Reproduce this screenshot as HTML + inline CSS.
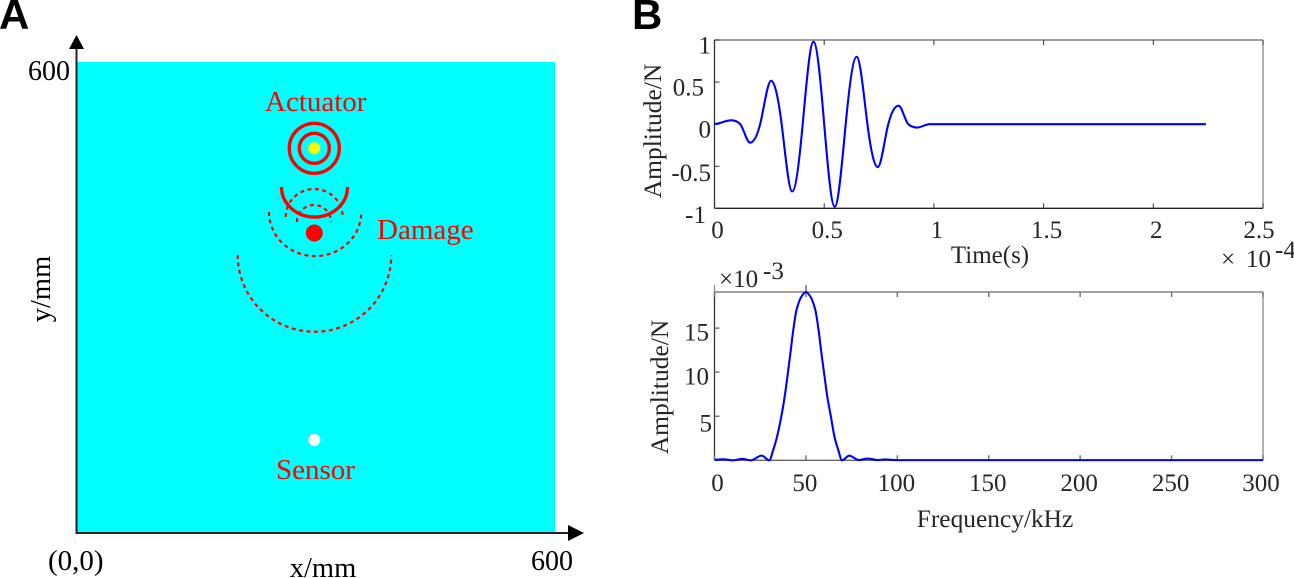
<!DOCTYPE html>
<html>
<head>
<meta charset="utf-8">
<style>
html,body{margin:0;padding:0;background:#fff;width:1294px;height:578px;overflow:hidden}
svg{display:block}
text{font-family:"Liberation Serif",serif;fill:#262626}
.r{fill:#f00}
.k{fill:#000}
.lab{font-family:"Liberation Sans",sans-serif;font-weight:bold;fill:#000;font-size:42px}
</style>
</head>
<body>
<svg id="fig" width="1294" height="578" viewBox="0 0 1294 578" xmlns="http://www.w3.org/2000/svg">
  <text class="lab" x="-1" y="29">A</text>
  <text class="lab" x="632" y="29">B</text>

  <g>
    <rect x="77" y="62" width="478" height="471" fill="#00ffff"/>
    <line x1="76.5" y1="534" x2="76.5" y2="46" stroke="#222" stroke-width="2"/>
    <polygon points="76.5,35 69,49 84,49" fill="#000"/>
    <line x1="76" y1="533" x2="570" y2="533" stroke="#222" stroke-width="2"/>
    <polygon points="584,533 568,525 568,541" fill="#000"/>
    <text class="k" x="28" y="80" font-size="28">600</text>
    <text class="k" x="48" y="570" font-size="29">(0,0)</text>
    <text class="k" x="531" y="570" font-size="28">600</text>
    <text class="k" x="323" y="577" font-size="28.500" text-anchor="middle">x/mm</text>
    <text class="k" transform="translate(50,289) rotate(-90)" font-size="28.500" text-anchor="middle">y/mm</text>

    <circle cx="314.3" cy="148.3" r="25" fill="none" stroke="#f00" stroke-width="3.4"/>
    <circle cx="314.3" cy="148.3" r="15" fill="none" stroke="#f00" stroke-width="3.4"/>
    <circle cx="314.3" cy="148.3" r="6" fill="#ffff00"/>
    <path d="M281.500 187 A33 30 0 0 0 347.500 187" fill="none" stroke="#f00" stroke-width="3.4"/>
    <path d="M285.700 217 A28.500 28 0 0 1 342.700 217" fill="none" stroke="#f00" stroke-width="2.200" stroke-dasharray="4 3.500"/>
    <path d="M297 222 A17 17 0 0 1 331 222" fill="none" stroke="#f00" stroke-width="2.200" stroke-dasharray="4 3.500"/>
    <path d="M269 212 A46 44 0 0 0 361.300 212" fill="none" stroke="#f00" stroke-width="2.200" stroke-dasharray="4 3.500"/>
    <path d="M237.700 255 A76.800 76.800 0 0 0 391.300 255" fill="none" stroke="#f00" stroke-width="2.200" stroke-dasharray="4 3.500"/>
    <circle cx="314.300" cy="233" r="8.500" fill="#f00"/>
    <circle cx="314.300" cy="440" r="6" fill="#fff"/>
    <text class="r" x="265" y="111" font-size="29">Actuator</text>
    <text class="r" x="377" y="239" font-size="29">Damage</text>
    <text class="r" x="276" y="479" font-size="29">Sensor</text>
  </g>

  <g id="timeChart">
    <text transform="translate(661,131) rotate(-90)" font-size="25.500" text-anchor="middle">Amplitude/N</text>
    <text x="990" y="263" font-size="25" text-anchor="middle">Time(s)</text>
    <text x="1221" y="267" font-size="25">×</text>
    <text x="1246" y="267" font-size="25">10</text>
    <text x="1275" y="258" font-size="25">-4</text>
  </g>
  <g id="freqChart">
    <text transform="translate(668,387) rotate(-90)" font-size="25.500" text-anchor="middle">Amplitude/N</text>
    <text x="995" y="527" font-size="25.400" text-anchor="middle">Frequency/kHz</text>
    <text x="719" y="287" font-size="25">×10</text>
    <text x="763" y="279" font-size="25">-3</text>
    <line x1="806" y1="285" x2="806" y2="292" stroke="#888" stroke-width="1.800"/>
    <line x1="714.500" y1="285" x2="714.500" y2="292" stroke="#888" stroke-width="1.200"/>
  </g>
</svg>
<script>
var timeX = [0,0.076,0.117,0.162,0.208,0.258,0.306,0.354,0.402,0.451,0.5,0.548,0.598,0.648,0.697,0.744,0.792,0.839,0.883,0.924,0.98,1.2,2.24];
var timeY = [0,0.045,0,-0.22,0,0.515,0,-0.8,0,0.98,0,-0.98,0,0.8,0,-0.51,0,0.22,0,-0.04,0,0,0];
var timeXTicks = [0,0.5,1,1.5,2,2.5];
var timeYTicks = [-1,-0.5,0,0.5,1];

var freqX = [0,4.8,10.2,15.2,19.8,25.8,30,32.1,34,36.7,38.5,41.3,43.1,44.9,47.6,50,52.4,55.1,56.9,58.7,60.2,61.7,63.5,65.8,67.7,69.7,73.7,79,83.6,89.6,93,100,150,300];
var freqY = [0.05,0.11,0,0.15,0,0.53,0,1.17,2.5,5.15,7.4,11.8,14.8,17.1,18.6,19.1,18.6,17.1,14.8,11.8,9.5,7.2,5.15,2.5,1.17,0,0.52,0.03,0.2,0.03,0.1,0.02,0.02,0.02];
var freqXTicks = [0,50,100,150,200,250,300];
var freqYTicks = [5,10,15];

var NS = 'http://www.w3.org/2000/svg';

function make(parent, tag, attrs) {
  var el = document.createElementNS(NS, tag);
  for (var k in attrs) el.setAttribute(k, attrs[k]);
  parent.appendChild(el);
  return el;
}

// Cubic path through the samples; zero slope at local extrema, gain scales slope elsewhere
function curve(xs, ys, sx, sy, gain) {
  var n = xs.length, px = [], py = [], m = [], d = [], i;
  for (i = 0; i < n; i++) { px.push(sx(xs[i])); py.push(sy(ys[i])); }
  for (i = 0; i < n - 1; i++) d.push((py[i + 1] - py[i]) / (px[i + 1] - px[i]));
  m[0] = d[0] * 0.3;
  m[n - 1] = d[n - 2];
  for (i = 1; i < n - 1; i++) {
    if (d[i - 1] * d[i] <= 0) m[i] = 0;
    else m[i] = gain * 2 * d[i - 1] * d[i] / (d[i - 1] + d[i]);
  }
  var s = 'M' + px[0].toFixed(2) + ' ' + py[0].toFixed(2);
  for (i = 0; i < n - 1; i++) {
    var h = (px[i + 1] - px[i]) / 3;
    s += 'C' + (px[i] + h).toFixed(2) + ' ' + (py[i] + m[i] * h).toFixed(2) + ' ' +
         (px[i + 1] - h).toFixed(2) + ' ' + (py[i + 1] - m[i + 1] * h).toFixed(2) + ' ' +
         px[i + 1].toFixed(2) + ' ' + py[i + 1].toFixed(2);
  }
  return s;
}

function drawChart(g, opt, xs, ys, xTicks, yTicks) {
  var box = opt.box, xDom = opt.xDom, yDom = opt.yDom;
  var sx = function (v) { return box.l + (v - xDom[0]) / (xDom[1] - xDom[0]) * (box.r - box.l); };
  var sy = function (v) { return box.b - (v - yDom[0]) / (yDom[1] - yDom[0]) * (box.b - box.t); };
  var el;

  el = make(g, 'line', {x1: box.l, y1: box.t, x2: box.r, y2: box.t, stroke: '#808080', 'stroke-width': 1.5});
  
  
  el = make(g, 'line', {x1: box.r, y1: box.t, x2: box.r, y2: box.b, stroke: '#888', 'stroke-width': 1.3});
  
  
  el = make(g, 'line', {x1: box.l, y1: box.b, x2: box.r, y2: box.b, stroke: opt.bottomColor, 'stroke-width': 1.4});
  
  
  el = make(g, 'line', {x1: box.l, y1: box.t, x2: box.l, y2: box.b, stroke: '#333', 'stroke-width': 1.3});
  
  

  xTicks.forEach(function (v) {
    var x = sx(v);
    var a = make(g, 'line', {x1: x, y1: box.b, x2: x, y2: box.b - 5, stroke: opt.tickColor, 'stroke-width': opt.tickWidth});
    
    
    var b = make(g, 'line', {x1: x, y1: box.t, x2: x, y2: box.t + 5, stroke: opt.tickColor, 'stroke-width': opt.tickWidth});
    
    
    var t = make(g, 'text', {x: x + opt.xShift(v), y: opt.labelY, 'font-size': 25, 'text-anchor': 'middle'});
    t.textContent = String(v);
    
    
  });
  yTicks.forEach(function (v) {
    var y = sy(v);
    var a = make(g, 'line', {x1: box.l, y1: y, x2: box.l + 5, y2: y, stroke: opt.tickColor, 'stroke-width': opt.tickWidth});
    
    
    var t = make(g, 'text', {x: opt.yRight(v), y: y + opt.yDrop(v), 'font-size': 25, 'text-anchor': 'end'});
    t.textContent = String(v);
    
    
  });

  var line = make(g, 'path', {d: curve(xs, ys, sx, sy, opt.gain), fill: 'none', stroke: '#0000ff', 'stroke-width': 2.1, 'stroke-linejoin': 'round'});
  
  
}

drawChart(document.getElementById('timeChart'), {
  box: {l: 714.5, r: 1263, t: 40, b: 208.3},
  xDom: [0, 2.5], yDom: [-1, 1], labelY: 238, gain: 1.55,
  bottomColor: '#222', tickColor: '#333', tickWidth: 1,
  xShift: function (v) { return v === 2.5 ? -4 : 3; },
  yRight: function (v) { return v === 0.5 ? 704 : (v === -1 ? 706 : 711); },
  yDrop: function (v) { return v === -1 ? 14.5 : (v === -0.5 ? 15 : 13.5); }
}, timeX, timeY, timeXTicks, timeYTicks);

drawChart(document.getElementById('freqChart'), {
  box: {l: 714.5, r: 1263, t: 292, b: 460.3},
  xDom: [0, 300], yDom: [0, 19.1], labelY: 491, gain: 1,
  bottomColor: '#666', tickColor: '#777', tickWidth: 1.5,
  xShift: function (v) { return v === 0 ? 3 : (v === 300 ? -2 : -1); },
  yRight: function (v) { return v === 5 ? 712 : 709; },
  yDrop: function (v) { return v === 5 ? 15.5 : 12.5; }
}, freqX, freqY, freqXTicks, freqYTicks);
</script>
</body>
</html>
